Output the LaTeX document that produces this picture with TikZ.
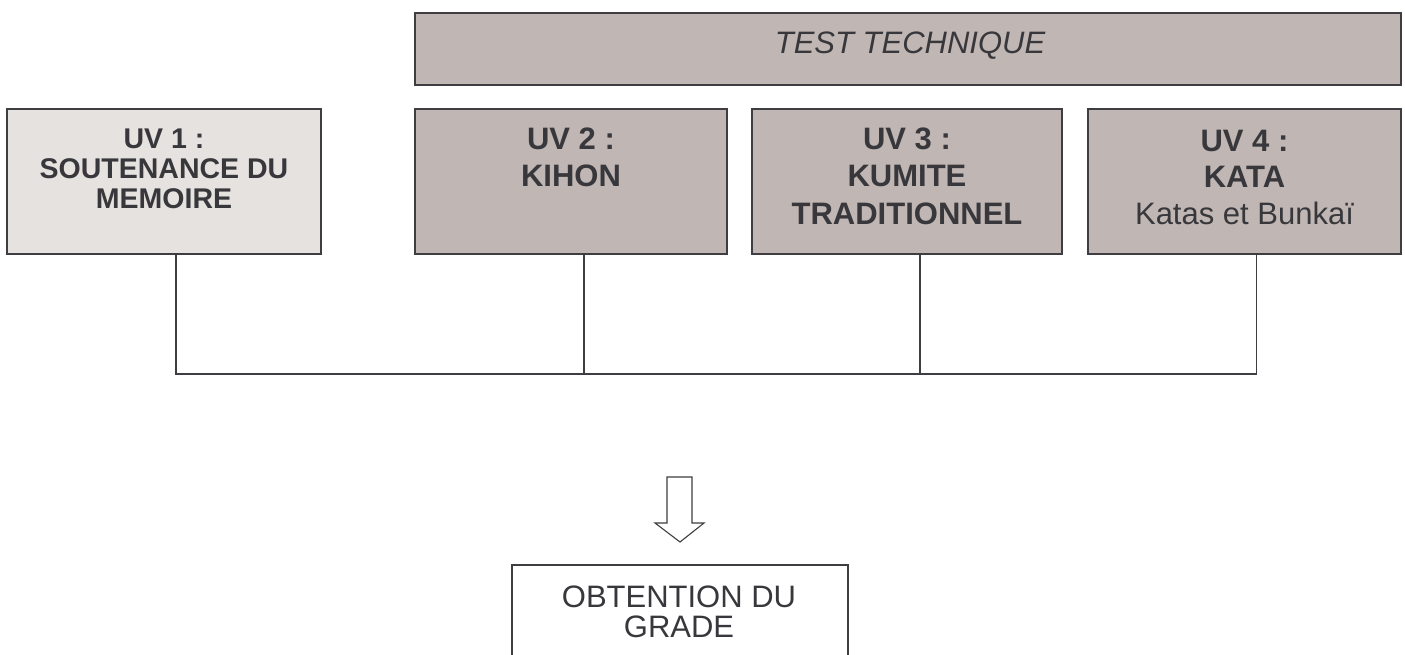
\documentclass[tikz,border=0pt]{standalone}
\usepackage{fontspec}
\setmainfont{Liberation Sans}
\definecolor{bordc}{HTML}{3E3E42}
\definecolor{taupe}{HTML}{C0B6B3}
\definecolor{lightg}{HTML}{E6E2DF}
\definecolor{txtc}{HTML}{38383C}
\tikzset{
  box/.style={draw=bordc, line width=1.6pt, inner sep=0pt, rectangle},
  txt/.style={text=txtc, align=center, inner sep=0pt, anchor=base},
  conn/.style={draw=bordc, line width=1.6pt},
  hollowarrow/.style={draw=bordc, line width=1.1pt, fill=white, line join=miter},
}
\begin{document}
\begin{tikzpicture}[x=1pt,y=-1pt]
\useasboundingbox[fill=white] (0,0) rectangle (1405,655);
% boxes
\node[box, fill=taupe, minimum width=986pt, minimum height=72pt] (test) at (908,49) {};
\node[box, fill=lightg, minimum width=314pt, minimum height=145pt] (b1) at (164,181.5) {};
\node[box, fill=taupe, minimum width=312pt, minimum height=145pt] (b2) at (571,181.5) {};
\node[box, fill=taupe, minimum width=310pt, minimum height=145pt] (b3) at (907,181.5) {};
\node[box, fill=taupe, minimum width=313pt, minimum height=145pt] (b4) at (1244.5,181.5) {};
\node[box, fill=white, minimum width=336pt, minimum height=135pt] (res) at (680,632.5) {};
% texts (anchor base = baseline of last line)
\node[txt, font={\fontsize{31}{37}\selectfont\itshape}] (ttest) at (910,54) {TEST TECHNIQUE};
\node[txt, font={\fontsize{28.5}{30}\selectfont\bfseries}] (t1) at (164,208) {UV 1 :\\SOUTENANCE DU\\MEMOIRE};
\node[txt, font={\fontsize{31}{37}\selectfont\bfseries}] (t2) at (571,187) {UV 2 :\\KIHON};
\node[txt, font={\fontsize{31}{37}\selectfont\bfseries}] (t3) at (907,224) {UV 3 :\\KUMITE\\TRADITIONNEL};
\node[txt, font={\fontsize{31}{36.5}\selectfont}] (t4) at (1244.5,224) {\textbf{UV 4 :}\\\textbf{KATA}\\Katas et Bunkaï};
\node[txt, font={\fontsize{31}{30}\selectfont}] (tres) at (679,637) {OBTENTION DU\\GRADE};
% connectors
\draw[conn] ([xshift=12pt]b1.south) -- ++(0,119) -| ([xshift=12pt]b4.south);
\draw[conn] ([xshift=13pt]b2.south) -- ++(0,119);
\draw[conn] ([xshift=13pt]b3.south) -- ++(0,119);
% hollow arrow
\draw[hollowarrow] (667,477) -- (692,477) -- (692,523) -- (704,523) -- (680,542) -- (655,523) -- (667,523) -- cycle;
\end{tikzpicture}
\end{document}
